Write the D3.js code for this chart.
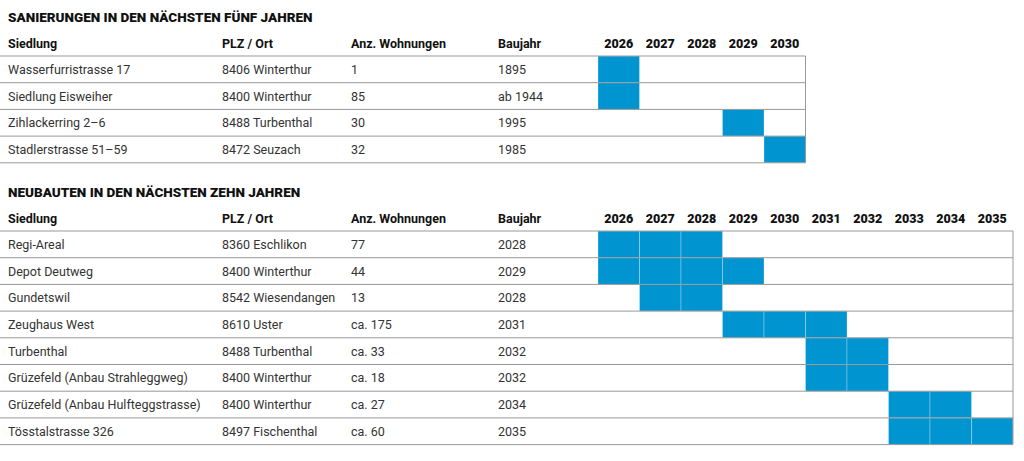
<!DOCTYPE html><html><head><meta charset="utf-8"><script src="https://cdn.jsdelivr.net/npm/d3@7"></script>
<style>body{margin:0;background:#fff}svg{font-family:Roboto,"Noto Sans",sans-serif}</style></head><body><svg id="c" width="1024" height="461"></svg>
<script>
const headers=["Siedlung","PLZ / Ort","Anz. Wohnungen","Baujahr"];
const sanTitle="SANIERUNGEN IN DEN NÄCHSTEN FÜNF JAHREN";
const sanYears=[2026,2027,2028,2029,2030];
const sanRows=[
 ["Wasserfurristrasse 17","8406 Winterthur","1","1895"],
 ["Siedlung Eisweiher","8400 Winterthur","85","ab 1944"],
 ["Zihlackerring 2–6","8488 Turbenthal","30","1995"],
 ["Stadlerstrasse 51–59","8472 Seuzach","32","1985"]];
const sanBars=[[2026],[2026],[2029],[2030]];
const neuTitle="NEUBAUTEN IN DEN NÄCHSTEN ZEHN JAHREN";
const neuYears=[2026,2027,2028,2029,2030,2031,2032,2033,2034,2035];
const neuRows=[
 ["Regi-Areal","8360 Eschlikon","77","2028"],
 ["Depot Deutweg","8400 Winterthur","44","2029"],
 ["Gundetswil","8542 Wiesendangen","13","2028"],
 ["Zeughaus West","8610 Uster","ca. 175","2031"],
 ["Turbenthal","8488 Turbenthal","ca. 33","2032"],
 ["Grüzefeld (Anbau Strahleggweg)","8400 Winterthur","ca. 18","2032"],
 ["Grüzefeld (Anbau Hulfteggstrasse)","8400 Winterthur","ca. 27","2034"],
 ["Tösstalstrasse 326","8497 Fischenthal","ca. 60","2035"]];
const neuBars=[[2026,2027,2028],[2026,2027,2028,2029],[2027,2028],[2029,2030,2031],[2031,2032],[2031,2032],[2033,2034],[2033,2034,2035]];
const svg=d3.select("#c");
const colX=[8,222,351,498];
const blue="#0094d1";
function table(title,years,rows,bars,top){
  const g=svg.append("g");
  const x=d3.scaleBand().domain(years).range([598,598+41.5*years.length]);
  const y=d3.scaleBand().domain(d3.range(rows.length)).range([top+46,top+46+26.7*rows.length]);
  g.append("text").attr("x",8).attr("y",top+12).text(title).attr("font-size",13.5).attr("font-weight",900).attr("fill","#111");
  headers.forEach((h,i)=>g.append("text").attr("x",colX[i]).attr("y",top+38).text(h).attr("font-size",12.5).attr("font-weight",700).attr("fill","#111"));
  years.forEach(yr=>g.append("text").attr("x",x(yr)+x.bandwidth()/2).attr("y",top+38).attr("text-anchor","middle").text(yr).attr("font-size",12.5).attr("font-weight",900).attr("fill","#111"));
  rows.forEach((r,i)=>{
    bars[i].forEach(yr=>g.append("rect").attr("x",x(yr)).attr("y",y(i)).attr("width",x.bandwidth()).attr("height",y.bandwidth()).attr("fill",blue).attr("stroke","#fff").attr("stroke-opacity",0.35).attr("stroke-width",0.8));
    r.forEach((t,j)=>g.append("text").attr("x",colX[j]).attr("y",y(i)+y.bandwidth()/2+4.5).text(t).attr("font-size",12.5).attr("fill","#333"));
  });
  const r0=x.range()[1];
  d3.range(rows.length+1).forEach(i=>{const yy=top+46+26.7*i;g.append("line").attr("x1",0).attr("x2",r0).attr("y1",yy).attr("y2",yy).attr("stroke","#999").attr("stroke-width",1);});
  g.append("line").attr("x1",r0).attr("x2",r0).attr("y1",top+46).attr("y2",y.range()[1]).attr("stroke","#999");
}
table(sanTitle,sanYears,sanRows,sanBars,10);
table(neuTitle,neuYears,neuRows,neuBars,185);
</script></body></html>
